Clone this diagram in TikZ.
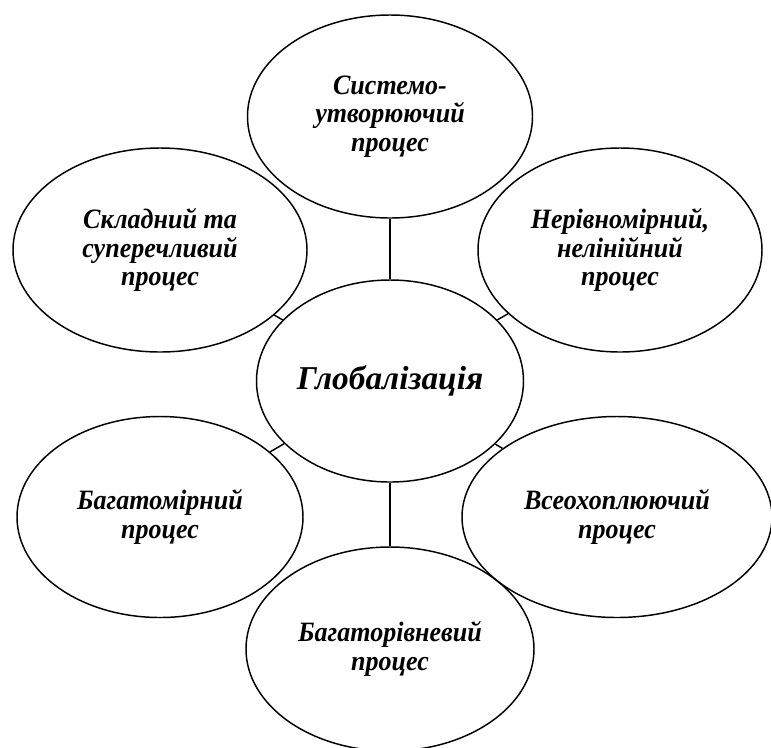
\documentclass[tikz,border=0pt]{standalone}
\usepackage{fontspec}
\setmainfont{Liberation Serif}
\newfontfamily\narrowserif[FakeStretch=0.93]{Liberation Serif}
\usetikzlibrary{shapes.geometric}

\begin{document}
\begin{tikzpicture}[x=0.75pt,y=-0.75pt,
    oval/.style={draw, ellipse, line width=1.1pt, inner sep=0pt, align=center,
      font=\narrowserif\fontsize{21}{21.4}\selectfont\bfseries\itshape}]
    \clip (0,0) rectangle (771,747);
    \node[oval, minimum width=200.25pt, minimum height=151.5pt,
      font=\fontsize{25}{28}\selectfont\bfseries\itshape] (glob) at (390,381) {Глобалізація};
    \node[oval, minimum width=213.75pt, minimum height=152.25pt] (sys) at (390,116.5) {Системо-\\утворюючий\\процес};
    \node[oval, minimum width=220.5pt, minimum height=153pt] (skl) at (160,250) {Складний та\\суперечливий\\процес};
    \node[oval, minimum width=213pt, minimum height=153pt] (ner) at (620,250) {Нерівномірний,\\нелінійний\\процес};
    \node[oval, minimum width=214.5pt, minimum height=150.75pt] (bmir) at (160,517) {Багатомірний\\процес};
    \node[oval, minimum width=232.5pt, minimum height=150.75pt] (vseo) at (617,517) {Всеохоплюючий\\процес};
    \node[oval, minimum width=216pt, minimum height=153pt] (briv) at (390,649) {Багаторівневий\\процес};
    \foreach \n in {sys,skl,ner,bmir,vseo,briv}
      \draw[line width=1.1pt] (glob) -- (\n);
\end{tikzpicture}
\end{document}
